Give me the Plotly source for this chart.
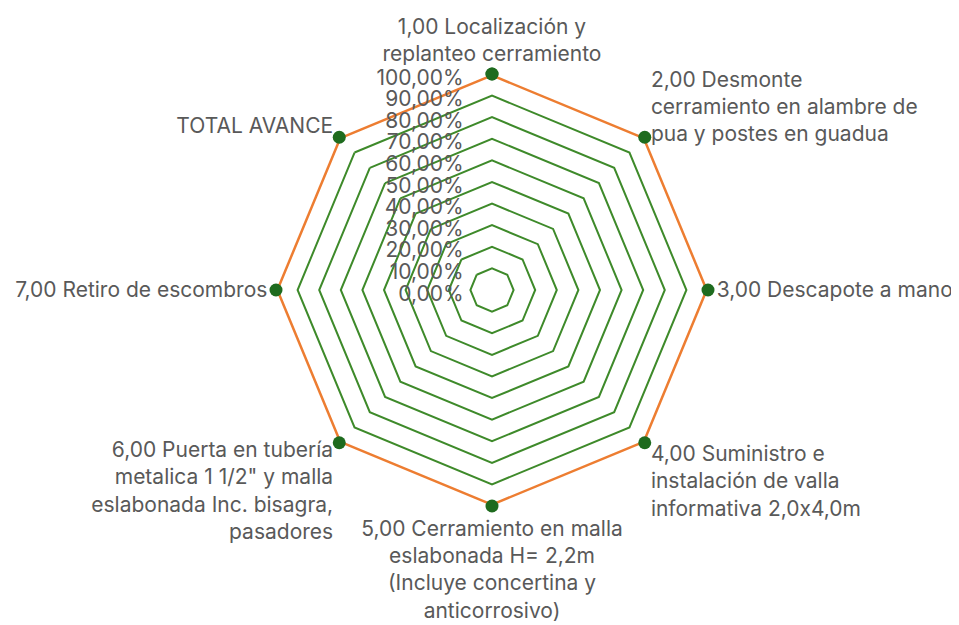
import plotly.graph_objects as go

categories = [
    "1,00 Localización y<br>replanteo cerramiento",
    "2,00 Desmonte<br>cerramiento en alambre de<br>pua y postes en guadua",
    "3,00 Descapote a mano",
    "4,00 Suministro e<br>instalación de valla<br>informativa 2,0x4,0m",
    "5,00 Cerramiento en malla<br>eslabonada H= 2,2m<br>(Incluye concertina y<br>anticorrosivo)",
    "6,00 Puerta en tubería<br>metalica 1 1/2\" y malla<br>eslabonada Inc. bisagra,<br>pasadores",
    "7,00 Retiro de escombros",
    "TOTAL AVANCE",
]
values = [1.0, 1.0, 1.0, 1.0, 1.0, 1.0, 1.0, 1.0]
tick_vals = [0.0, 0.1, 0.2, 0.3, 0.4, 0.5, 0.6, 0.7, 0.8, 0.9, 1.0]

fig = go.Figure()
fig.add_trace(go.Scatterpolar(
    r=values + values[:1],
    theta=categories + categories[:1],
    mode="lines+markers",
    line=dict(color="#ED7D31", width=5),
    marker=dict(color="#1E6B1E", size=13),
    showlegend=False,
))

# page body adds an 8px offset
cx, cy, R = 484, 282, 216
W, H = 959, 625
FONT = "Inter"
fig.update_layout(
    width=W, height=H,
    margin=dict(l=0, r=0, t=0, b=0),
    paper_bgcolor="white",
    separators=",.",
    font=dict(family=FONT, size=21, color="#595959"),
    polar=dict(
        domain=dict(x=[(cx - R) / W, (cx + R) / W],
                    y=[(H - cy - R) / H, (H - cy + R) / H]),
        gridshape="linear",
        bgcolor="white",
        radialaxis=dict(
            range=[0, 1],
            tickvals=tick_vals,
            tickformat=".2%",
            angle=90,
            side="counterclockwise",
            showline=False,
            gridcolor="#3E8A2A",
            gridwidth=1.5,
            ticks="outside",
            ticklen=9,
            tickcolor="rgba(0,0,0,0)",
            tickfont=dict(family=FONT, size=21, color="#595959"),
        ),
        angularaxis=dict(
            rotation=90,
            direction="clockwise",
            showline=False,
            showgrid=False,
            ticks="outside",
            ticklen=4,
            tickcolor="rgba(0,0,0,0)",
            tickfont=dict(family=FONT, size=21, color="#595959"),
        ),
    ),
)

fig.write_html("out.html")
